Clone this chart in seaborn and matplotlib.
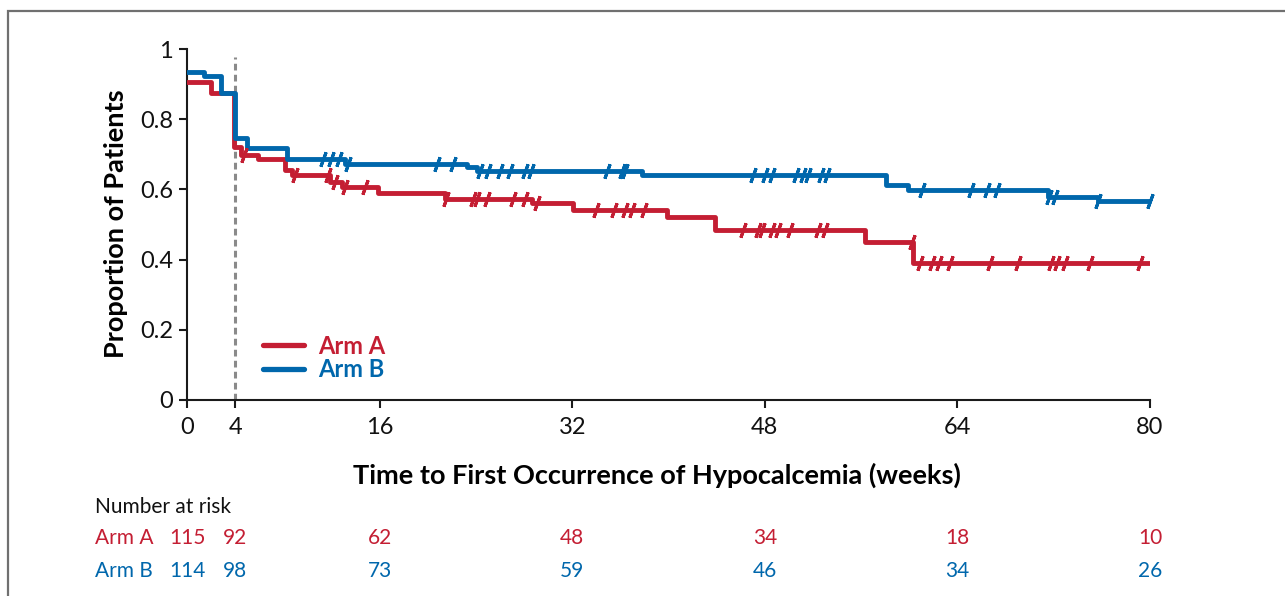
import numpy as np
import pandas as pd
import matplotlib
matplotlib.use("Agg")
import matplotlib.pyplot as plt
from matplotlib.lines import Line2D
from matplotlib.patches import Rectangle
from matplotlib import transforms
import seaborn as sns

# ---------------- data ----------------
arms = ["Arm A", "Arm B"]
arm_a_times = [0, 2.0, 3.9, 4.5, 5.9, 8.1, 8.7, 11.9, 12.9, 15.9, 21.4, 28.7, 32.1, 39.9, 43.9, 56.3, 60.3, 80]
arm_a_surv = [0.907, 0.875, 0.722, 0.698, 0.687, 0.655, 0.641, 0.620, 0.607, 0.590, 0.572, 0.562, 0.542, 0.521, 0.484, 0.450, 0.390, 0.390]
arm_b_times = [0, 1.4, 2.8, 4.0, 5.0, 8.3, 13.1, 23.3, 24.1, 37.8, 58.1, 59.9, 71.5, 75.7, 80]
arm_b_surv = [0.935, 0.922, 0.875, 0.746, 0.718, 0.687, 0.672, 0.664, 0.652, 0.641, 0.613, 0.597, 0.577, 0.568, 0.566]

arm_a_censor = [4.7, 9.0, 11.7, 12.3, 13.1, 14.8, 21.5, 23.8, 24.1, 24.9, 27.1, 28.1, 29.1, 34.0, 35.5,
                36.4, 37.0, 38.0, 46.2, 47.4, 47.8, 48.6, 49.1, 50.1, 52.4, 53.0, 60.2, 60.9, 61.9, 62.5,
                63.4, 66.7, 69.0, 71.8, 72.3, 72.9, 75.0, 79.2]
arm_b_censor = [11.3, 12.0, 12.6, 13.4, 20.8, 22.1, 24.3, 25.0, 26.0, 26.8, 28.1, 28.6, 34.9, 36.1, 36.4,
                47.0, 48.0, 48.6, 50.6, 51.2, 51.6, 52.7, 53.2, 61.1, 65.1, 66.5, 67.3, 71.6, 72.1, 75.7, 80.0]

risk_times = [0, 4, 16, 32, 48, 64, 80]
risk_a = [115, 92, 62, 48, 34, 18, 10]
risk_b = [114, 98, 73, 59, 46, 34, 26]

x_ticks = [0, 4, 16, 32, 48, 64, 80]
y_ticks = [0, 0.2, 0.4, 0.6, 0.8, 1.0]
y_tick_labels = ["0", "0.2", "0.4", "0.6", "0.8", "1"]

colors = {"Arm A": "#C41E33", "Arm B": "#0067AC"}

# ---------------- frames ----------------
curve_df = pd.concat([
    pd.DataFrame({"time": arm_a_times, "surv": arm_a_surv, "arm": "Arm A"}),
    pd.DataFrame({"time": arm_b_times, "surv": arm_b_surv, "arm": "Arm B"}),
], ignore_index=True)

def surv_at(times, surv, t):
    idx = np.searchsorted(np.array(times), np.array(t), side="right") - 1
    return np.array(surv)[idx]

cens_df = pd.concat([
    pd.DataFrame({"time": arm_a_censor, "surv": surv_at(arm_a_times, arm_a_surv, arm_a_censor), "arm": "Arm A"}),
    pd.DataFrame({"time": arm_b_censor, "surv": surv_at(arm_b_times, arm_b_surv, arm_b_censor), "arm": "Arm B"}),
], ignore_index=True)

# ---------------- plot ----------------
sns.set_theme(style="white")
plt.rcParams["font.family"] = ["Lato", "DejaVu Sans"]

fig = plt.figure(figsize=(12.85, 5.96), dpi=100)
ax = fig.add_axes([187 / 1285, 1 - 400 / 596, 963 / 1285, 351 / 596])

# outer frame
fig.patches.append(Rectangle((8 / 1285, -0.2), 1.2, 1 - 11 / 596 + 0.2, transform=fig.transFigure,
                             fill=False, edgecolor="#707070", linewidth=1.6))

ax.axvline(4, ymin=0, ymax=0.977, color="#8a8a8a", linestyle=(0, (2.2, 1.4)), linewidth=2.2, zorder=1)

sns.lineplot(data=curve_df, x="time", y="surv", hue="arm", palette=colors, drawstyle="steps-post",
             estimator=None, sort=False, linewidth=3.5, legend=False, ax=ax, zorder=3)
for arm in arms:
    sub = cens_df[cens_df["arm"] == arm]
    ax.plot(sub["time"], sub["surv"], linestyle="none", marker=(2, 2, -20), markersize=11,
            markeredgewidth=2.2, color=colors[arm], clip_on=False, zorder=4)

ax.set_xlim(0, 80)
ax.set_ylim(0, 1)
ax.set_xticks(x_ticks)
ax.set_yticks(y_ticks)
ax.set_yticklabels(y_tick_labels)
for s in ["top", "right"]:
    ax.spines[s].set_visible(False)
for s in ["left", "bottom"]:
    ax.spines[s].set_color("#1a1a1a")
    ax.spines[s].set_linewidth(1.5)
ax.tick_params(axis="both", direction="out", length=6, width=1.5, color="#1a1a1a",
               labelsize=17, labelcolor="#111111", bottom=True, left=True)
ax.tick_params(axis="x", pad=6)
ax.tick_params(axis="y", pad=4)

ax.set_xlabel("Time to First Occurrence of Hypocalcemia (weeks)", fontsize=19.5, fontweight="bold", color="#000000")
ax.xaxis.set_label_coords((657 - 187) / 963, (400 - 463) / 351)
ax.set_ylabel("Proportion of Patients", fontsize=19.5, fontweight="bold", color="#000000")
ax.yaxis.set_label_coords((128 - 187) / 963, (400 - 224) / 351)

handles = [Line2D([0], [0], color=colors[a], linewidth=3.8) for a in arms]
leg = ax.legend(handles, arms, loc="upper left", bbox_to_anchor=((246 - 187) / 963, (400 - 318) / 351),
                frameon=False, handlelength=1.75, handletextpad=0.6, labelspacing=0.02,
                borderpad=0.2, prop={"size": 17, "weight": "bold"})
for txt, a in zip(leg.get_texts(), arms):
    txt.set_color(colors[a])

# number at risk table
trans = transforms.blended_transform_factory(ax.transData, ax.transAxes)
ax.text((95 - 187) / 963, (400 - 507) / 351, "Number at risk", transform=ax.transAxes,
        ha="left", va="center", fontsize=15, color="#111111")
for arm, vals, ypix in [("Arm A", risk_a, 538), ("Arm B", risk_b, 571)]:
    yy = (400 - ypix) / 351
    ax.text((95 - 187) / 963, yy, arm, transform=ax.transAxes, ha="left", va="center",
            fontsize=15, color=colors[arm])
    for t, v in zip(risk_times, vals):
        ax.text(t, yy, str(v), transform=trans, ha="center", va="center", fontsize=15, color=colors[arm])

fig.savefig("out.png", dpi=100)
